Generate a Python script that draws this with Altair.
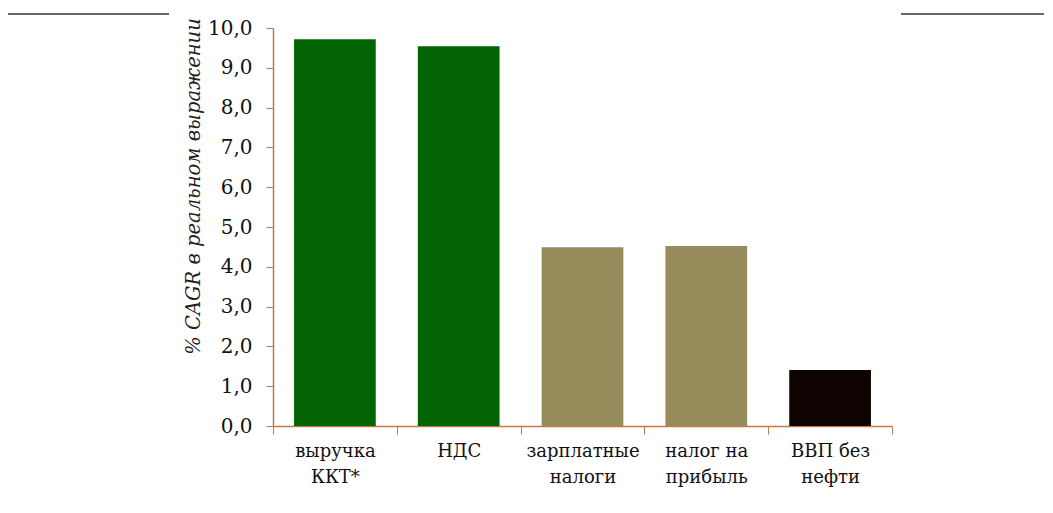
import altair as alt
import pandas as pd

categories = ["выручка\nККТ*", "НДС", "зарплатные\nналоги", "налог на\nприбыль", "ВВП без\nнефти"]
values = [9.72, 9.54, 4.49, 4.52, 1.41]
colors = ["#036403", "#036403", "#968b5a", "#968b5a", "#0f0300"]
y_ticks = [0, 1, 2, 3, 4, 5, 6, 7, 8, 9, 10]

df = pd.DataFrame({"cat": categories, "val": values, "color": colors})

FONT = "DejaVu Serif"
AXIS_COLOR = "#c27a4c"

bars = alt.Chart(df).mark_bar(width=alt.RelativeBandSize(0.66)).encode(
    x=alt.X("cat:N", sort=categories, title=None,
            scale=alt.Scale(paddingInner=0, paddingOuter=0),
            axis=alt.Axis(labelAngle=0, labelExpr="split(datum.label, '\\n')",
                          labelFont=FONT, labelFontSize=18, labelColor="#111",
                          labelLineHeight=26, labelPadding=8, labelBaseline="top",
                          domainColor=AXIS_COLOR, tickColor=AXIS_COLOR,
                          tickSize=8, tickBand="extent", domainWidth=1.5)),
    y=alt.Y("val:Q", scale=alt.Scale(domain=[0, 10], nice=False),
            title="% CAGR в реальном выражении",
            axis=alt.Axis(values=y_ticks,
                          labelExpr="replace(format(datum.value, '.1f'), '.', ',')",
                          labelFont=FONT, labelFontSize=20, labelColor="#111",
                          labelPadding=14, tickSize=7,
                          domainColor=AXIS_COLOR, tickColor=AXIS_COLOR, domainWidth=1.5,
                          titleFont=FONT, titleFontStyle="italic", titleFontWeight="normal",
                          titleFontSize=19.5, titleColor="#222", titlePadding=4,
                          titleY=158, grid=False)),
    color=alt.Color("color:N", scale=None),
)

left_line = alt.Chart(df).mark_rule(color="#666666", strokeWidth=2).encode(
    x=alt.value(-265), x2=alt.value(-104), y=alt.value(-14)
)
right_line = alt.Chart(df).mark_rule(color="#666666", strokeWidth=2).encode(
    x=alt.value(628), x2=alt.value(790), y=alt.value(-14)
)

chart = alt.layer(bars, left_line, right_line).properties(
    width=619, height=398,
    autosize=alt.AutoSizeParams(type="none"),
    padding={"left": 265, "top": 20, "right": 152, "bottom": 75},
).configure_view(stroke=None)

chart.save("out.html", embed_options={"renderer": "svg", "actions": False})
